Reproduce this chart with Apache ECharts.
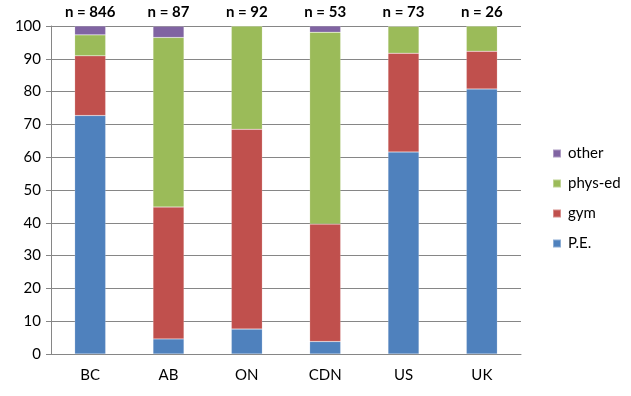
<!DOCTYPE html>
<html><head><meta charset="utf-8">
<script src="https://cdn.jsdelivr.net/npm/echarts@6/dist/echarts.min.js"></script>
<style>html,body{margin:0;padding:0;background:#fff}#c{width:631px;height:396px}</style>
</head><body><div id="c"></div>
<script>
const categories = ['BC','AB','ON','CDN','US','UK'];
const nLabels = ['n = 846','n = 87','n = 92','n = 53','n = 73','n = 26'];
const pe     = [72.7, 4.6, 7.6, 3.8, 61.6, 80.8];
const gym    = [18.2, 40.2, 60.9, 35.8, 30.1, 11.5];
const physEd = [6.4, 51.7, 31.5, 58.5, 8.2, 7.7];
const other  = [2.7, 3.4, 0, 1.9, 0, 0];
const yTicks = {min:0, max:100, interval:10};

const font = 'Lato, "Open Sans", sans-serif';
const chart = echarts.init(document.getElementById('c'));
const mk = (name, data, color) => ({
  name, type:'bar', stack:'s', data, barWidth:31,
  itemStyle:{color, borderColor:'rgba(255,255,255,0.35)', borderWidth:0.5},
  emphasis:{disabled:true}
});
chart.setOption({
  animation:false,
  textStyle:{fontFamily:font},
  grid:{left:51, right:110, top:26, bottom:42},
  legend:{
    orient:'vertical', left:547, top:141, itemWidth:8, itemHeight:8, itemGap:15,
    icon:'rect',
    data:['other','phys-ed','gym','P.E.'],
    textStyle:{fontSize:15, color:'#000', fontFamily:font, padding:[0,0,0,2]}
  },
  xAxis:[{
    type:'category', data:categories,
    axisLine:{lineStyle:{color:'#868686'}},
    axisTick:{length:5, lineStyle:{color:'#868686'}},
    axisLabel:{fontSize:15, color:'#000', margin:14}
  },{
    type:'category', data:nLabels, position:'top',
    axisLine:{show:false}, axisTick:{show:false},
    axisLabel:{fontSize:15, fontWeight:'bold', color:'#000', margin:6}
  }],
  yAxis:{
    type:'value', min:yTicks.min, max:yTicks.max, interval:yTicks.interval,
    axisLine:{show:true, lineStyle:{color:'#868686'}},
    axisTick:{show:true, length:5, lineStyle:{color:'#868686'}},
    splitLine:{lineStyle:{color:'#868686', width:1}},
    axisLabel:{fontSize:15, color:'#000', margin:10}
  },
  series:[
    mk('P.E.', pe, '#4F81BD'),
    mk('gym', gym, '#C0504D'),
    mk('phys-ed', physEd, '#9BBB59'),
    mk('other', other, '#8064A2')
  ]
});
</script></body></html>
